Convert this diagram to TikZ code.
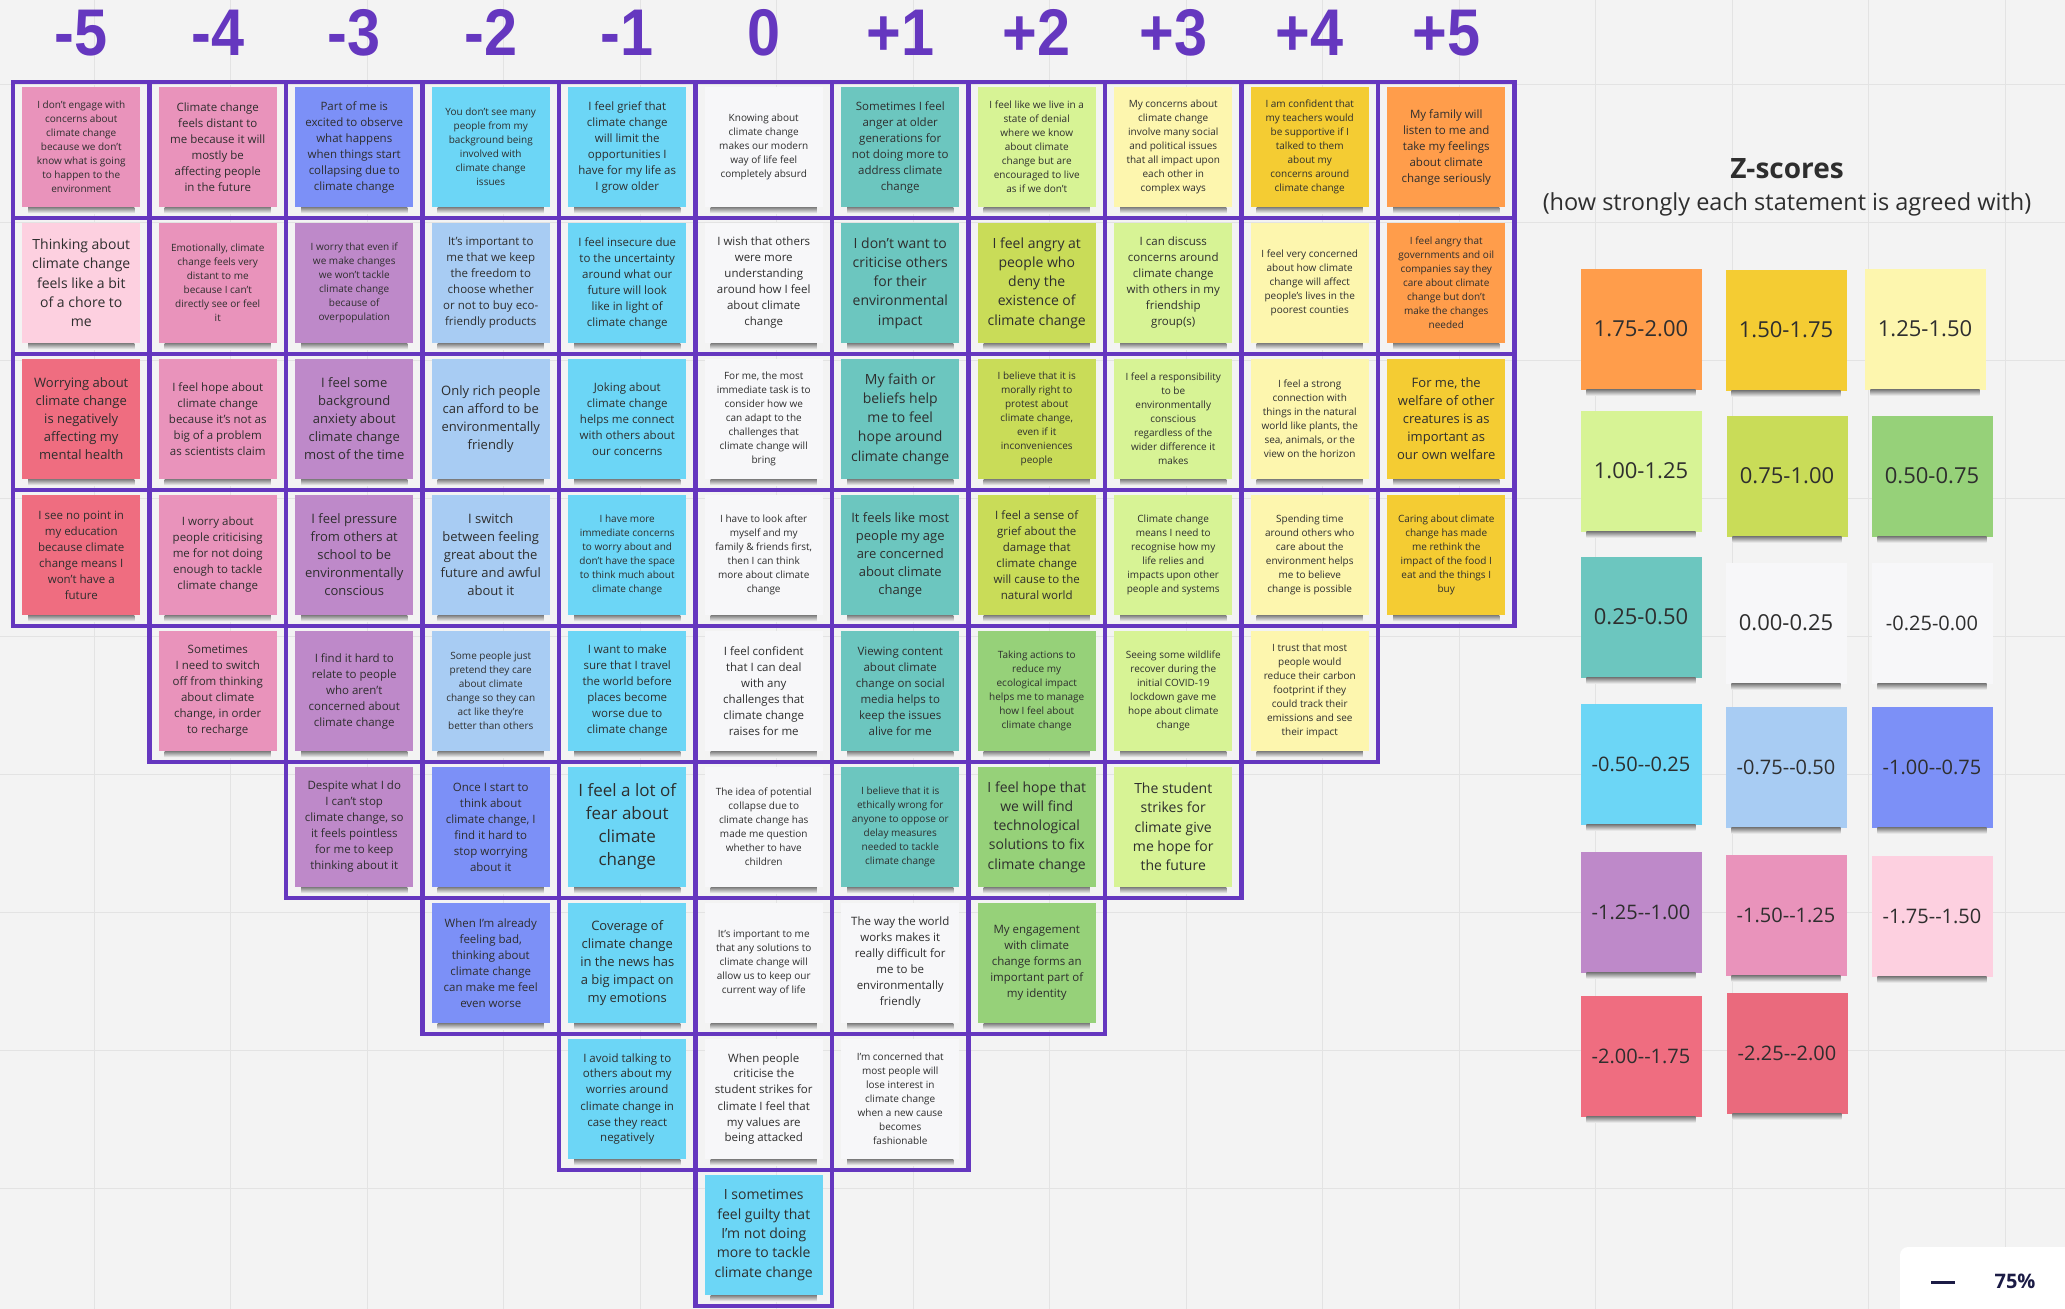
\documentclass[tikz,border=0pt]{standalone}
\usepackage{fontspec}
\setmainfont{Open Sans}
\newfontfamily\headfont{Liberation Sans}
\usetikzlibrary{positioning,calc}

\definecolor{boardbg}{HTML}{F3F3F3}
\definecolor{boardline}{HTML}{E3E3E3}
\definecolor{gridpurple}{HTML}{6537BF}
\definecolor{notetext}{HTML}{2E2E2E}
\definecolor{zoomnavy}{HTML}{1B1B45}
% sticky note colours, one per z-score band
\definecolor{zorange}{HTML}{FF9D4B}
\definecolor{zyellow}{HTML}{F4CC33}
\definecolor{zlyellow}{HTML}{FDF6AE}
\definecolor{zlgreen}{HTML}{D7F395}
\definecolor{zygreen}{HTML}{C9DC58}
\definecolor{zgreen}{HTML}{96D179}
\definecolor{zteal}{HTML}{6CC6BF}
\definecolor{zwhite}{HTML}{F7F7F9}
\definecolor{zcyan}{HTML}{6CD6F6}
\definecolor{zlblue}{HTML}{A8CCF3}
\definecolor{zblue}{HTML}{7C90F7}
\definecolor{zpurple}{HTML}{BE89C9}
\definecolor{zpink}{HTML}{E993BB}
\definecolor{zlpink}{HTML}{FDD0E0}
\definecolor{zred}{HTML}{EF6D80}
\definecolor{zdred}{HTML}{EA6A7D}

% statement note: column, row, colour, text size, text
\newcommand{\stmt}[5]{%
  \node[note, #4, fill=#3] (n#1-#2) at ([yshift=3pt]c#1-#2.center) {#5};
  \shade[shadowband] ([xshift=6pt]n#1-#2.south west) rectangle ([xshift=-6pt,yshift=-6pt]n#1-#2.south east);
}
% legend note: name, x, y, colour, text size, label
\newcommand{\keynote}[6]{%
  \node[key, #5, fill=#4] (k#1) at (#2,#3) {#6};
  \shade[shadowband] ([xshift=6pt]k#1.south west) rectangle ([xshift=-6pt,yshift=-6pt]k#1.south east);
}

\begin{document}
\begin{tikzpicture}[
      x=1pt, y=-1pt,
      cell/.style = {
        draw=gridpurple,
        line width=4.5pt,
        minimum width=136.5pt,
        minimum height=136pt,
        inner sep=0pt
      },
      note/.style = {
        minimum width=118pt,
        minimum height=120pt,
        inner sep=0pt,
        align=center,
        text=notetext
      },
      tS/.style = {font=\fontsize{10}{14}\selectfont},
      tM/.style = {font=\fontsize{11.5}{16}\selectfont},
      tML/.style = {font=\fontsize{13}{18}\selectfont},
      tL/.style = {font=\fontsize{14}{19.3}\selectfont},
      tXL/.style = {font=\fontsize{17}{23}\selectfont},
      kB/.style = {font=\fontsize{22}{26}\selectfont},
      kS/.style = {font=\fontsize{20}{24}\selectfont},
      key/.style = {
        note,
        minimum width=121pt,
        minimum height=121pt
      },
      head/.style = {
        font=\headfont\bfseries\fontsize{66}{66}\selectfont,
        text=gridpurple
      },
      shadowband/.style = {
        top color=black!50,
        bottom color=boardbg!90!white
      }
    ]
    \useasboundingbox (0,0) rectangle (2065,1309);
    \fill[boardbg] (0,0) rectangle (2065,1309);

    % board grid
    \foreach \gx in {0, ..., 15} {
      \draw[boardline] ({94+(\gx-1)*136.5},0) -- ({94+(\gx-1)*136.5},1309);
    }
    \foreach \gy in {0, ..., 9} {
      \draw[boardline] (0,{84+\gy*138}) -- (2065,{84+\gy*138});
    }

    % forced distribution grid
    \foreach \ci/\cn in {1/4,2/5,3/6,4/7,5/8,6/9,7/8,8/7,9/6,10/5,11/4} {
      \foreach \ri in {1, ..., \cn} {
        \node[cell] (c\ci-\ri) at ({81.25+(\ci-1)*136.5},{150+(\ri-1)*136}) {};
      }
    }

    \foreach \ci/\hlab in {1/-5,2/-4,3/-3,4/-2,5/-1,6/0,7/+1,8/+2,9/+3,10/+4,11/+5} {
      \node[head, anchor=base] (h\ci) at ([yshift=24pt]c\ci-1.north) {\scalebox{0.9}[1]{\hlab}};
    }

    % statements
    \stmt{1}{1}{zpink}{tS}{I don't engage with\\concerns about\\climate change\\because we don't\\know what is going\\to happen to the\\environment}
    \stmt{1}{2}{zlpink}{tL}{Thinking about\\climate change\\feels like a bit\\of a chore to\\me}
    \stmt{1}{3}{zred}{tML}{Worrying about\\climate change\\is negatively\\affecting my\\mental health}
    \stmt{1}{4}{zred}{tM}{I see no point in\\my education\\because climate\\change means I\\won't have a\\future}
    \stmt{2}{1}{zpink}{tM}{Climate change\\feels distant to\\me because it will\\mostly be\\affecting people\\in the future}
    \stmt{2}{2}{zpink}{tS}{Emotionally, climate\\change feels very\\distant to me\\because I can't\\directly see or feel\\it}
    \stmt{2}{3}{zpink}{tM}{I feel hope about\\climate change\\because it's not as\\big of a problem\\as scientists claim}
    \stmt{2}{4}{zpink}{tM}{I worry about\\people criticising\\me for not doing\\enough to tackle\\climate change}
    \stmt{2}{5}{zpink}{tM}{Sometimes\\I need to switch\\off from thinking\\about climate\\change, in order\\to recharge}
    \stmt{3}{1}{zblue}{tM}{Part of me is\\excited to observe\\what happens\\when things start\\collapsing due to\\climate change}
    \stmt{3}{2}{zpurple}{tS}{I worry that even if\\we make changes\\we won't tackle\\climate change\\because of\\overpopulation}
    \stmt{3}{3}{zpurple}{tML}{I feel some\\background\\anxiety about\\climate change\\most of the time}
    \stmt{3}{4}{zpurple}{tML}{I feel pressure\\from others at\\school to be\\environmentally\\conscious}
    \stmt{3}{5}{zpurple}{tM}{I find it hard to\\relate to people\\who aren't\\concerned about\\climate change}
    \stmt{3}{6}{zpurple}{tM}{Despite what I do\\I can't stop\\climate change, so\\it feels pointless\\for me to keep\\thinking about it}
    \stmt{4}{1}{zcyan}{tS}{You don't see many\\people from my\\background being\\involved with\\climate change\\issues}
    \stmt{4}{2}{zlblue}{tM}{It's important to\\me that we keep\\the freedom to\\choose whether\\or not to buy eco-\\friendly products}
    \stmt{4}{3}{zlblue}{tML}{Only rich people\\can afford to be\\environmentally\\friendly}
    \stmt{4}{4}{zlblue}{tML}{I switch\\between feeling\\great about the\\future and awful\\about it}
    \stmt{4}{5}{zlblue}{tS}{Some people just\\pretend they care\\about climate\\change so they can\\act like they're\\better than others}
    \stmt{4}{6}{zblue}{tM}{Once I start to\\think about\\climate change, I\\find it hard to\\stop worrying\\about it}
    \stmt{4}{7}{zblue}{tM}{When I'm already\\feeling bad,\\thinking about\\climate change\\can make me feel\\even worse}
    \stmt{5}{1}{zcyan}{tM}{I feel grief that\\climate change\\will limit the\\opportunities I\\have for my life as\\I grow older}
    \stmt{5}{2}{zcyan}{tM}{I feel insecure due\\to the uncertainty\\around what our\\future will look\\like in light of\\climate change}
    \stmt{5}{3}{zcyan}{tM}{Joking about\\climate change\\helps me connect\\with others about\\our concerns}
    \stmt{5}{4}{zcyan}{tS}{I have more\\immediate concerns\\to worry about and\\don't have the space\\to think much about\\climate change}
    \stmt{5}{5}{zcyan}{tM}{I want to make\\sure that I travel\\the world before\\places become\\worse due to\\climate change}
    \stmt{5}{6}{zcyan}{tXL}{I feel a lot of\\fear about\\climate\\change}
    \stmt{5}{7}{zcyan}{tML}{Coverage of\\climate change\\in the news has\\a big impact on\\my emotions}
    \stmt{5}{8}{zcyan}{tM}{I avoid talking to\\others about my\\worries around\\climate change in\\case they react\\negatively}
    \stmt{6}{1}{zwhite}{tS}{Knowing about\\climate change\\makes our modern\\way of life feel\\completely absurd}
    \stmt{6}{2}{zwhite}{tM}{I wish that others\\were more\\understanding\\around how I feel\\about climate\\change}
    \stmt{6}{3}{zwhite}{tS}{For me, the most\\immediate task is to\\consider how we\\can adapt to the\\challenges that\\climate change will\\bring}
    \stmt{6}{4}{zwhite}{tS}{I have to look after\\myself and my\\family \& friends first,\\then I can think\\more about climate\\change}
    \stmt{6}{5}{zwhite}{tM}{I feel confident\\that I can deal\\with any\\challenges that\\climate change\\raises for me}
    \stmt{6}{6}{zwhite}{tS}{The idea of potential\\collapse due to\\climate change has\\made me question\\whether to have\\children}
    \stmt{6}{7}{zwhite}{tS}{It's important to me\\that any solutions to\\climate change will\\allow us to keep our\\current way of life}
    \stmt{6}{8}{zwhite}{tM}{When people\\criticise the\\student strikes for\\climate I feel that\\my values are\\being attacked}
    \stmt{6}{9}{zcyan}{tL}{I sometimes\\feel guilty that\\I'm not doing\\more to tackle\\climate change}
    \stmt{7}{1}{zteal}{tM}{Sometimes I feel\\anger at older\\generations for\\not doing more to\\address climate\\change}
    \stmt{7}{2}{zteal}{tL}{I don't want to\\criticise others\\for their\\environmental\\impact}
    \stmt{7}{3}{zteal}{tL}{My faith or\\beliefs help\\me to feel\\hope around\\climate change}
    \stmt{7}{4}{zteal}{tML}{It feels like most\\people my age\\are concerned\\about climate\\change}
    \stmt{7}{5}{zteal}{tM}{Viewing content\\about climate\\change on social\\media helps to\\keep the issues\\alive for me}
    \stmt{7}{6}{zteal}{tS}{I believe that it is\\ethically wrong for\\anyone to oppose or\\delay measures\\needed to tackle\\climate change}
    \stmt{7}{7}{zwhite}{tM}{The way the world\\works makes it\\really difficult for\\me to be\\environmentally\\friendly}
    \stmt{7}{8}{zwhite}{tS}{I'm concerned that\\most people will\\lose interest in\\climate change\\when a new cause\\becomes\\fashionable}
    \stmt{8}{1}{zlgreen}{tS}{I feel like we live in a\\state of denial\\where we know\\about climate\\change but are\\encouraged to live\\as if we don't}
    \stmt{8}{2}{zygreen}{tL}{I feel angry at\\people who\\deny the\\existence of\\climate change}
    \stmt{8}{3}{zygreen}{tS}{I believe that it is\\morally right to\\protest about\\climate change,\\even if it\\inconveniences\\people}
    \stmt{8}{4}{zygreen}{tM}{I feel a sense of\\grief about the\\damage that\\climate change\\will cause to the\\natural world}
    \stmt{8}{5}{zgreen}{tS}{Taking actions to\\reduce my\\ecological impact\\helps me to manage\\how I feel about\\climate change}
    \stmt{8}{6}{zgreen}{tL}{I feel hope that\\we will find\\technological\\solutions to fix\\climate change}
    \stmt{8}{7}{zgreen}{tM}{My engagement\\with climate\\change forms an\\important part of\\my identity}
    \stmt{9}{1}{zlyellow}{tS}{My concerns about\\climate change\\involve many social\\and political issues\\that all impact upon\\each other in\\complex ways}
    \stmt{9}{2}{zlgreen}{tM}{I can discuss\\concerns around\\climate change\\with others in my\\friendship\\group(s)}
    \stmt{9}{3}{zlgreen}{tS}{I feel a responsibility\\to be\\environmentally\\conscious\\regardless of the\\wider difference it\\makes}
    \stmt{9}{4}{zlgreen}{tS}{Climate change\\means I need to\\recognise how my\\life relies and\\impacts upon other\\people and systems}
    \stmt{9}{5}{zlgreen}{tS}{Seeing some wildlife\\recover during the\\initial COVID-19\\lockdown gave me\\hope about climate\\change}
    \stmt{9}{6}{zlgreen}{tL}{The student\\strikes for\\climate give\\me hope for\\the future}
    \stmt{10}{1}{zyellow}{tS}{I am confident that\\my teachers would\\be supportive if I\\talked to them\\about my\\concerns around\\climate change}
    \stmt{10}{2}{zlyellow}{tS}{I feel very concerned\\about how climate\\change will affect\\people's lives in the\\poorest counties}
    \stmt{10}{3}{zlyellow}{tS}{I feel a strong\\connection with\\things in the natural\\world like plants, the\\sea, animals, or the\\view on the horizon}
    \stmt{10}{4}{zlyellow}{tS}{Spending time\\around others who\\care about the\\environment helps\\me to believe\\change is possible}
    \stmt{10}{5}{zlyellow}{tS}{I trust that most\\people would\\reduce their carbon\\footprint if they\\could track their\\emissions and see\\their impact}
    \stmt{11}{1}{zorange}{tM}{My family will\\listen to me and\\take my feelings\\about climate\\change seriously}
    \stmt{11}{2}{zorange}{tS}{I feel angry that\\governments and oil\\companies say they\\care about climate\\change but don't\\make the changes\\needed}
    \stmt{11}{3}{zyellow}{tML}{For me, the\\welfare of other\\creatures is as\\important as\\our own welfare}
    \stmt{11}{4}{zyellow}{tS}{Caring about climate\\change has made\\me rethink the\\impact of the food I\\eat and the things I\\buy}

    % legend
    \node[font=\bfseries\fontsize{28}{32}\selectfont, text=notetext] (ztitle) at (1787,169) {Z-scores};
    \node[font=\fontsize{23.5}{28}\selectfont, text=notetext] (zsub) at (1787,204) {(how strongly each statement is agreed with)};

    \keynote{1}{1641}{329}{zorange}{kB}{1.75-2.00}
    \keynote{2}{1786}{330}{zyellow}{kB}{1.50-1.75}
    \keynote{3}{1925}{329}{zlyellow}{kB}{1.25-1.50}
    \keynote{4}{1641}{471}{zlgreen}{kB}{1.00-1.25}
    \keynote{5}{1787}{476}{zygreen}{kB}{0.75-1.00}
    \keynote{6}{1932}{476}{zgreen}{kB}{0.50-0.75}
    \keynote{7}{1641}{617}{zteal}{kB}{0.25-0.50}
    \keynote{8}{1786}{623}{zwhite}{kB}{0.00-0.25}
    \keynote{9}{1932}{623}{zwhite}{kS}{-0.25-0.00}
    \keynote{10}{1641}{764}{zcyan}{kS}{-0.50-{}-0.25}
    \keynote{11}{1786}{767}{zlblue}{kS}{-0.75-{}-0.50}
    \keynote{12}{1932}{767}{zblue}{kS}{-1.00-{}-0.75}
    \keynote{13}{1641}{912}{zpurple}{kS}{-1.25-{}-1.00}
    \keynote{14}{1786}{915}{zpink}{kS}{-1.50-{}-1.25}
    \keynote{15}{1932}{916}{zlpink}{kS}{-1.75-{}-1.50}
    \keynote{16}{1641}{1056}{zred}{kS}{-2.00-{}-1.75}
    \keynote{17}{1787}{1053}{zdred}{kS}{-2.25-{}-2.00}

    % zoom control
    \node[fill=white, rounded corners=8pt, minimum width=180pt, minimum height=70pt] (zoombox) at (1990,1282) {};
    \node[fill=zoomnavy, inner sep=0pt, minimum width=24pt, minimum height=3pt] (zminus) at (1943,1282) {};
    \node[font=\bfseries\fontsize{20}{24}\selectfont, text=zoomnavy] (zpct) at (2015,1281) {75\%};
  \end{tikzpicture}
\end{document}
